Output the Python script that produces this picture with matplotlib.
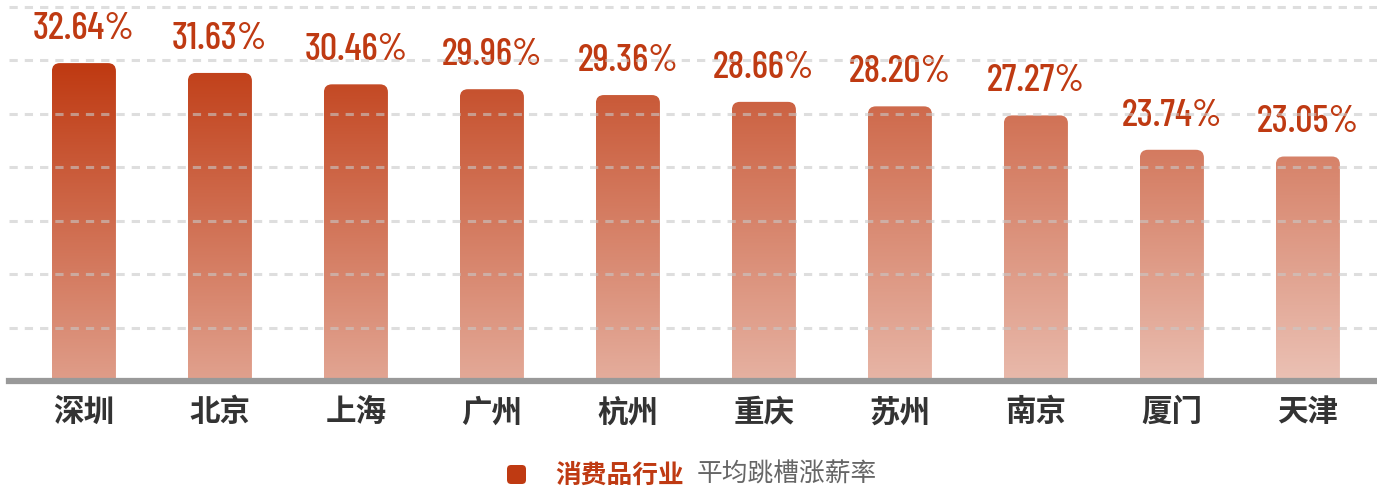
import numpy as np
import matplotlib
matplotlib.use('Agg')
import matplotlib.pyplot as plt
from matplotlib.patches import FancyBboxPatch

plt.rcParams['font.family'] = ['Noto Sans CJK SC', 'DejaVu Sans']

# data
cities = ['深圳', '北京', '上海', '广州', '杭州', '重庆', '苏州', '南京', '厦门', '天津']
rates = [32.64, 31.63, 30.46, 29.96, 29.36, 28.66, 28.20, 27.27, 23.74, 23.05]
series_name = '消费品行业'
metric_name = '平均跳槽涨薪率'

base_rgb = np.array([191, 58, 18]) / 255.0
label_color = '#BF3A12'
num_font = ['Barlow Condensed', 'Roboto Condensed', 'DejaVu Sans']

W, H = 1377, 488
fig = plt.figure(figsize=(W / 100, H / 100), dpi=100)
# axes placed in pixel terms: left 9, right 1377, baseline at 381, top grid at 7
ax = fig.add_axes([9 / W, (H - 381) / H, (1377 - 9) / W, (381 - 7) / H])

ymax = 38.4
x0, x1 = -0.551, 9.508
ax.set_xlim(x0, x1)
ax.set_ylim(0, ymax)

px_x = (1377 - 9) / (x1 - x0)
px_y = (381 - 7) / ymax
bar_w = 64 / px_x
r = 8 / px_x  # corner radius in x units
aspect = px_x / px_y

n = 64
t = np.linspace(0, 1, n)  # 0 bottom, 1 top
for i, v in enumerate(rates):
    a_top = 1 - 0.041 * i
    alpha = a_top * (0.5 + 0.5 * t)
    rgb = 1 - alpha[:, None] * (1 - base_rgb[None, :])
    img = rgb[:, None, :]
    im = ax.imshow(img, extent=[i - bar_w / 2, i + bar_w / 2, 0, v],
                   origin='lower', aspect='auto', interpolation='bilinear',
                   zorder=2)
    clip = FancyBboxPatch((i - bar_w / 2, -2), bar_w, v + 2,
                          boxstyle='round,pad=0,rounding_size=%f' % r,
                          mutation_aspect=aspect,
                          facecolor='none', edgecolor='none')
    ax.add_patch(clip)
    im.set_clip_path(clip)
    ax.annotate('%.2f%%' % v, (i, v), xytext=(0, 17.3),
                textcoords='offset points', ha='center', va='baseline',
                fontsize=27.5, fontweight=500, color=label_color,
                family=num_font)

ax.set_xlim(x0, x1)
ax.set_ylim(0, ymax)

# dashed grid drawn over the bars
for g in np.linspace(0, ymax, 8)[1:]:
    ax.axhline(g, color='#c8c8c8', alpha=0.6, lw=2.2,
               dashes=(2.7, 2.3), zorder=3, clip_on=False)
ax.axhline(0, color='#999999', lw=4.5, zorder=4, clip_on=False)

ax.set_xticks(range(len(cities)))
ax.set_xticklabels(cities, fontsize=22, fontweight='bold', color='#333333')
ax.tick_params(axis='x', length=0, pad=11)
ax.set_yticks([])
for s in ax.spines.values():
    s.set_visible(False)

# legend at the bottom
sq = FancyBboxPatch((507 / W, (H - 484) / H), 19 / W, 19 / H,
                    boxstyle='round,pad=0,rounding_size=0.003',
                    mutation_aspect=W / H,
                    transform=fig.transFigure, facecolor=label_color,
                    edgecolor='none')
fig.patches.append(sq)
fig.text(555 / W, (H - 475) / H, series_name, color=label_color,
         fontsize=18.5, fontweight='bold', va='center', ha='left')
fig.text(697 / W, (H - 475) / H, metric_name, color='#666666',
         fontsize=18.5, fontweight='medium', va='center', ha='left')

fig.savefig('out.png', dpi=100)
